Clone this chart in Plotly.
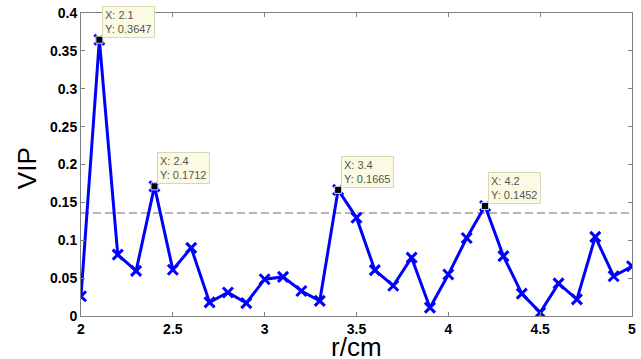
import plotly.graph_objects as go

r_cm = [2.0, 2.1, 2.2, 2.3, 2.4, 2.5, 2.6, 2.7, 2.8, 2.9,
        3.0, 3.1, 3.2, 3.3, 3.4, 3.5, 3.6, 3.7, 3.8, 3.9,
        4.0, 4.1, 4.2, 4.3, 4.4, 4.5, 4.6, 4.7, 4.8, 4.9, 5.0]
vip = [0.026, 0.3647, 0.081, 0.0595, 0.1712, 0.061, 0.090, 0.018, 0.031, 0.017,
       0.0486, 0.0516, 0.033, 0.020, 0.1665, 0.1297, 0.0605, 0.040, 0.077, 0.011,
       0.0547, 0.103, 0.1452, 0.079, 0.0296, 0.0045, 0.043, 0.022, 0.1045, 0.0525, 0.0657]
threshold = 0.136
tip_x = [2.1, 2.4, 3.4, 4.2]
tip_y = [0.3647, 0.1712, 0.1665, 0.1452]

x_ticks = [2, 2.5, 3, 3.5, 4, 4.5, 5]
x_ticktext = ["2", "2.5", "3", "3.5", "4", "4.5", "5"]
y_ticks = [0, 0.05, 0.1, 0.15, 0.2, 0.25, 0.3, 0.35, 0.4]
y_ticktext = ["0", "0.05", "0.1", "0.15", "0.2", "0.25", "0.3", "0.35", "0.4"]
x_title = "r/cm"
y_title = "VIP"

fig = go.Figure()
fig.add_trace(go.Scatter(
    x=[min(r_cm), max(r_cm)], y=[threshold, threshold], mode="lines",
    line=dict(color="#6e6e6e", width=1, dash="8px,4px"), hoverinfo="skip"))
fig.add_trace(go.Scatter(
    x=r_cm, y=vip, mode="lines+markers",
    line=dict(color="#0000ff", width=3),
    marker=dict(symbol="x-thin", size=10, line=dict(color="#0000ff", width=3))))
fig.add_trace(go.Scatter(
    x=tip_x, y=tip_y, mode="markers",
    marker=dict(symbol="square", size=7, color="black",
                line=dict(color="#d0d0ff", width=1))))

for xv, yv in zip(tip_x, tip_y):
    fig.add_annotation(
        x=xv, y=yv, xref="x", yref="y", showarrow=False,
        text=f"X: {xv:g}<br>Y: {yv:.4f}", align="left",
        xanchor="left", yanchor="bottom", xshift=3, yshift=2,
        font=dict(family="Arial", size=11, color="#555555"),
        bgcolor="#fbfbe3", bordercolor="#d8d8b8", borderwidth=1, borderpad=2)

fig.add_annotation(x=0.5, y=-0.102, xref="paper", yref="paper", showarrow=False,
                   text=x_title, xanchor="center", yanchor="middle",
                   font=dict(family="Arial", size=26, color="black"))
fig.add_annotation(x=-0.098, y=0.488, xref="paper", yref="paper", showarrow=False,
                   text=y_title, textangle=-90, xanchor="center", yanchor="middle",
                   font=dict(family="Arial", size=26, color="black"))

axis_common = dict(showline=True, linecolor="#808080", linewidth=1, mirror="ticks",
                   ticks="inside", ticklen=4, tickcolor="#808080", showgrid=False,
                   zeroline=False, automargin=False,
                   tickfont=dict(family="Arial", size=14, color="black", weight="bold"))
fig.update_xaxes(range=[2, 5], tickvals=x_ticks, ticktext=x_ticktext, **axis_common)
fig.update_yaxes(range=[0, 0.4], tickvals=y_ticks, ticktext=y_ticktext, **axis_common)
fig.update_layout(width=641, height=359, showlegend=False,
                  margin=dict(l=81, r=9, t=13, b=43),
                  plot_bgcolor="white", paper_bgcolor="white")
fig.write_html("out.html")
